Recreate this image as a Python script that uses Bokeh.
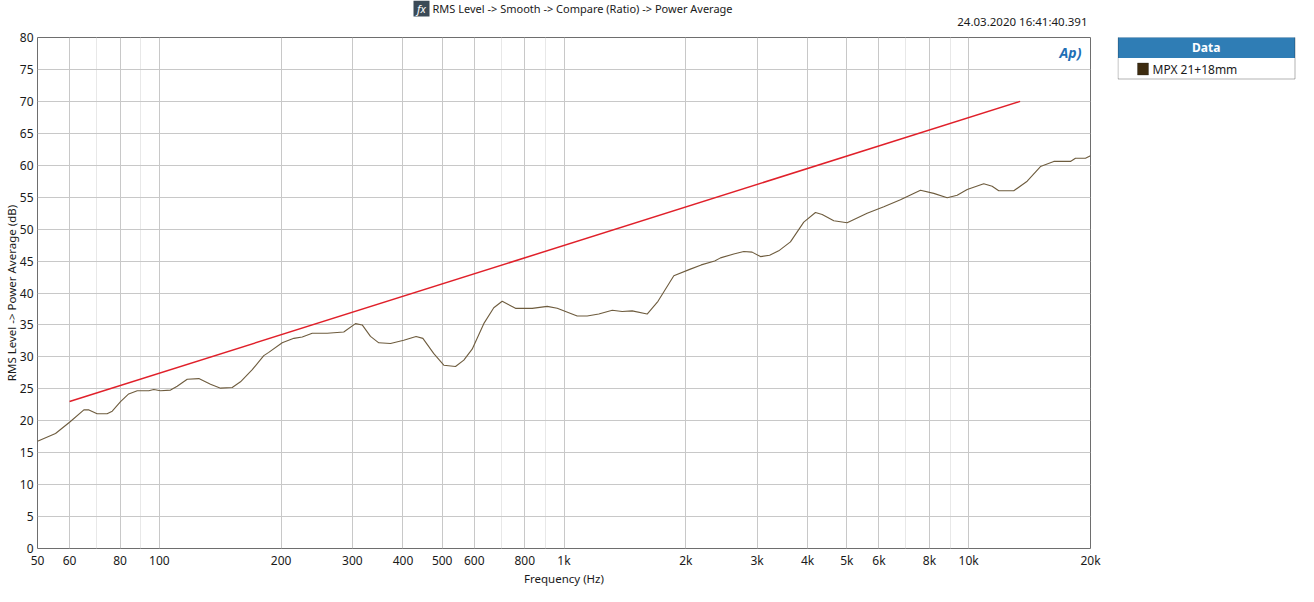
from bokeh.plotting import figure
from bokeh.models import FixedTicker, Label, Range1d, BoxAnnotation
from bokeh.layouts import column, row
from bokeh.embed import file_html
from bokeh.resources import INLINE

# ---- data ----
freq_hz = [50, 55.4, 60.1, 65.1, 67.0, 70.2, 74.3, 76.5, 80.2, 84.0, 88.2, 94.2, 96.9, 100.7,
           106.6, 110.7, 117.2, 125.2, 133.8, 141.7, 151.4, 158.7, 169.7, 181.2, 186.4, 201.2,
           215, 225.5, 238.7, 259.9, 285.6, 305.3, 317.2, 332.5, 348.6, 372.6, 401.8, 431, 448,
           476.8, 504.6, 539.4, 565.5, 593, 633.5, 670.6, 703.5, 758.8, 834.6, 909, 962, 1078,
           1141, 1219, 1316, 1392, 1474, 1605, 1707, 1868, 2045, 2183, 2357, 2436, 2627, 2782,
           2917, 3058, 3222, 3393, 3627, 3913, 4182, 4345, 4641, 5008, 5612, 6170, 6783, 7601,
           8198, 8849, 9366, 9916, 10895, 11430, 11865, 12925, 13950, 15045, 16230, 17845,
           18360, 19435, 20000]
level_db = [16.8, 18.0, 19.8, 21.7, 21.7, 21.1, 21.1, 21.5, 23.0, 24.2, 24.7, 24.7, 24.9, 24.7,
            24.8, 25.4, 26.5, 26.6, 25.7, 25.1, 25.2, 26.1, 28.0, 30.2, 30.7, 32.2, 32.9, 33.1,
            33.7, 33.7, 33.9, 35.2, 35.0, 33.2, 32.2, 32.1, 32.6, 33.2, 32.9, 30.5, 28.7, 28.5,
            29.5, 31.2, 35.2, 37.7, 38.7, 37.6, 37.6, 37.9, 37.6, 36.4, 36.4, 36.7, 37.3, 37.1,
            37.2, 36.7, 38.7, 42.7, 43.7, 44.4, 45.0, 45.5, 46.1, 46.5, 46.4, 45.7, 45.9, 46.6,
            48.0, 51.1, 52.6, 52.3, 51.3, 51.0, 52.5, 53.5, 54.6, 56.1, 55.6, 54.9, 55.3, 56.2,
            57.1, 56.7, 56.0, 56.0, 57.5, 59.8, 60.6, 60.6, 61.1, 61.1, 61.5]
target_freq = [60, 13400]
target_db = [23, 70]

x_ticks = [50, 60, 80, 100, 200, 300, 400, 500, 600, 800, 1000, 2000, 3000, 4000, 5000,
           6000, 8000, 10000, 20000]
x_tick_labels = ["50", "60", "80", "100", "200", "300", "400", "500", "600", "800", "1k",
                 "2k", "3k", "4k", "5k", "6k", "8k", "10k", "20k"]
x_minor = [70, 90, 700, 900, 7000, 9000]
y_ticks = list(range(0, 81, 5))

title_text = "RMS Level -> Smooth -> Compare (Ratio) -> Power Average"
stamp_text = "24.03.2020 16:41:40.391"
x_label = "Frequency (Hz)"
y_label = "RMS Level -> Power Average (dB)"
legend_title = "Data"
series_name = "MPX 21+18mm"

FONT = "Noto Sans"
W, H = 1298, 586
TOP_H = 29
BOT_H = 15
MAIN_W = 1117
MAIN_H = H - TOP_H - BOT_H
LEG_W = W - MAIN_W
OFF = 8  # main frame top offset inside middle row (room for the "80" label)


def bare(width, height):
    f = figure(width=width, height=height, title=None, x_range=Range1d(0, width),
               y_range=Range1d(height, 0), x_axis_location=None, y_axis_location=None,
               output_backend="svg", toolbar_location=None, min_border=0)
    f.grid.visible = False
    f.outline_line_color = None
    f.background_fill_color = "white"
    f.border_fill_color = "white"
    return f


def lab(f, x, y, text, units="data", **kw):
    opts = dict(text_font=FONT, text_font_size="12px", text_color="#1a1a1a",
                text_baseline="middle", text_align="left", x_units=units, y_units=units)
    opts.update(kw)
    f.add_layout(Label(x=x, y=y, text=text, **opts))


def cbox(f, l, r, t, b, **kw):
    f.add_layout(BoxAnnotation(left=l, right=r, top=t, bottom=b, left_units="canvas",
                               right_units="canvas", top_units="canvas",
                               bottom_units="canvas", **kw))


# ---- top strip: title + timestamp ----
top = bare(W, TOP_H)
top.quad(left=[413], right=[429], top=[0], bottom=[16], fill_color="#3b4a57", line_color=None)
lab(top, 421, 8, "fx", text_color="white", text_font_style="italic", text_align="center",
    text_font_size="11px")
lab(top, 432, 8, title_text, text_font_size="11px")
lab(top, 1087, 21, stamp_text, text_font_size="11.5px", text_align="right")

# ---- main plot ----
p = figure(width=MAIN_W, height=MAIN_H, x_axis_type="log", title=None,
           x_range=Range1d(50, 20000), y_range=Range1d(0, 80),
           output_backend="svg", toolbar_location=None,
           min_border_left=37, min_border_right=MAIN_W - 1090, min_border_top=OFF,
           min_border_bottom=10)
p.background_fill_color = "white"
p.border_fill_color = "white"
p.outline_line_color = "#6e6e6e"
p.outline_line_width = 1

p.xaxis.ticker = FixedTicker(ticks=x_ticks, minor_ticks=x_minor)
p.xaxis.major_label_overrides = {t: l for t, l in zip(x_ticks, x_tick_labels)}
p.yaxis.ticker = FixedTicker(ticks=y_ticks)
for ax in (p.xaxis, p.yaxis):
    ax.axis_line_color = None
    ax.major_tick_line_color = None
    ax.minor_tick_line_color = None
    ax.major_tick_out = 0
    ax.major_tick_in = 0
    ax.minor_tick_out = 0
    ax.minor_tick_in = 0
    ax.major_label_text_font = FONT
    ax.major_label_text_font_size = "12px"
    ax.major_label_text_color = "#1a1a1a"
    ax.axis_label_text_font = FONT
    ax.axis_label_text_font_size = "11.5px"
    ax.axis_label_text_font_style = "normal"
    ax.axis_label_text_color = "#1a1a1a"
p.xaxis.major_label_standoff = 3
p.yaxis.major_label_standoff = 4
p.yaxis.axis_label_standoff = -2
p.yaxis.axis_label = y_label

p.xgrid.grid_line_color = "#c8c8c8"
p.xgrid.minor_grid_line_color = "#e8e8e8"
p.ygrid.grid_line_color = "#c8c8c8"

p.line(freq_hz, level_db, line_color="#6e5c3e", line_width=1.1)
p.line(target_freq, target_db, line_color="#e0202a", line_width=1.5)

# AP logo inside plot area (canvas units)
lab(p, 1070, 52 - TOP_H, "Ap)", units="canvas", text_font_size="14px",
    text_font_style="bold italic", text_color="#1f6fb5", text_align="center")

# ---- legend panel (canvas units of its own figure) ----
leg = bare(LEG_W, MAIN_H)
y0 = 36.5 - TOP_H
right_edge = LEG_W - 3.5
cbox(leg, 0.5, right_edge, y0, y0 + 21, fill_color="#2f7db5", fill_alpha=1, line_color=None)
cbox(leg, 0.5, right_edge, y0, y0 + 42, fill_alpha=0, line_color="black", line_width=1)
lab(leg, right_edge / 2, y0 + 10.5, legend_title, units="canvas", text_color="white",
    text_font_style="bold", text_align="center")
cbox(leg, 20, 31, y0 + 26, y0 + 38, fill_color="#3d2b0f", fill_alpha=1, line_color="#222222")
lab(leg, 35, y0 + 32, series_name, units="canvas")

# ---- bottom strip: x axis title ----
bot = bare(W, BOT_H)
lab(bot, 563.5, 7, x_label, text_font_size="11.5px", text_align="center")

layout = column(top, row(p, leg, spacing=0), bot, spacing=0)

open("out.html", "w").write(file_html(layout, INLINE))
